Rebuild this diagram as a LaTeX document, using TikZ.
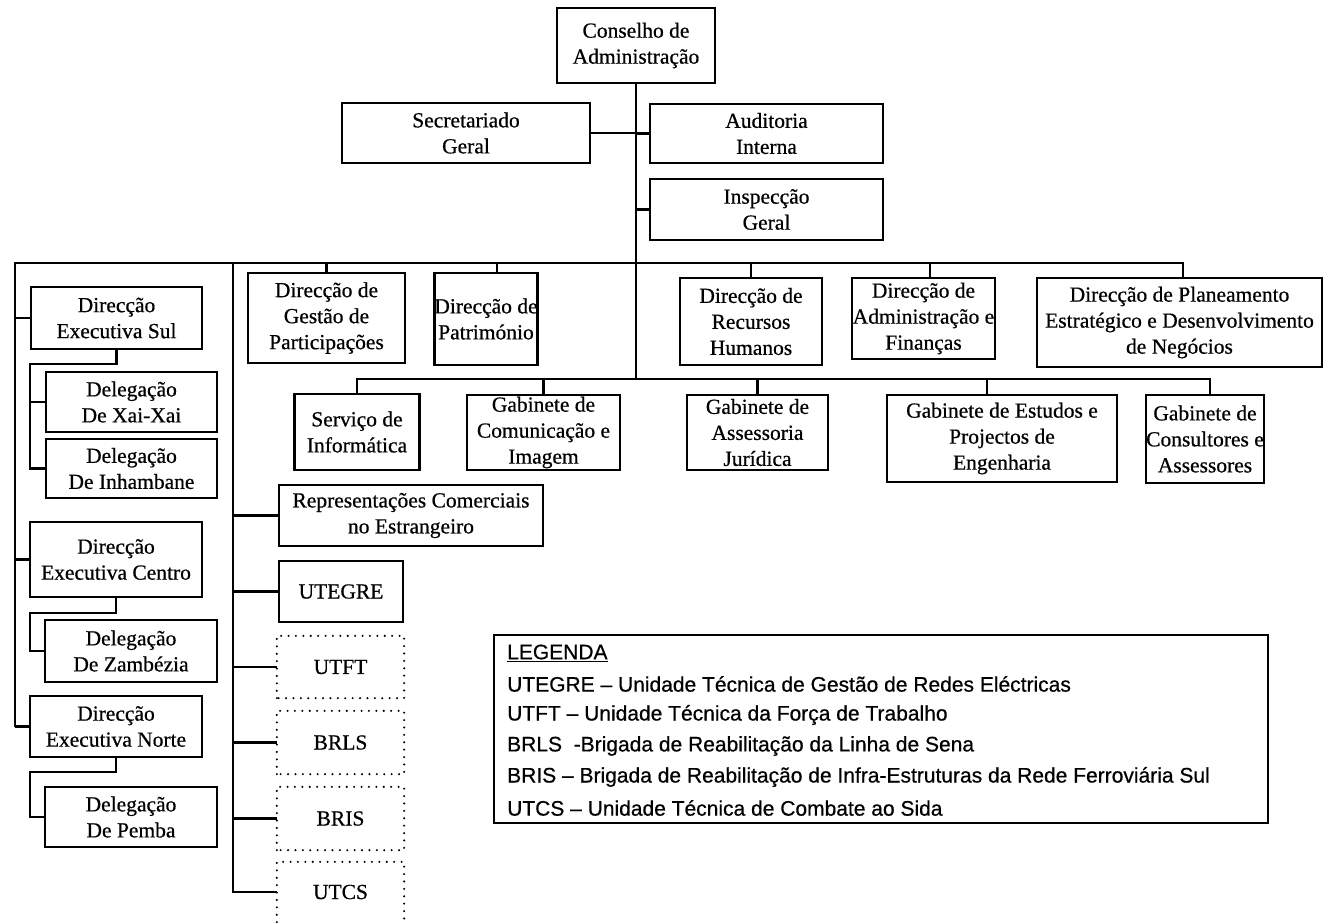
\documentclass[tikz,border=0pt]{standalone}
\usepackage{fontspec}
\setmainfont{Liberation Serif}[FakeBold=0.6]
\newfontfamily\legfont{Liberation Sans}[FakeBold=0.6]
\begin{document}
\begin{tikzpicture}[x=1pt,y=-1pt,
  box/.style={draw, line width=2.3pt, align=center, inner sep=0pt,
    font=\fontsize{21.5}{26}\selectfont},
  sz/.style 2 args={minimum width=#1pt, minimum height=#2pt},
  dotbox/.style={box, draw=none},
  dotline/.style={line width=2.3pt, line cap=round, dash pattern=on 0pt off 7.4pt},
  conn/.style={line width=2.6pt},
  legframe/.style={draw, line width=2.3pt, inner sep=0pt},
  legtext/.style={anchor=west, inner sep=0pt,
    font=\legfont\fontsize{21}{31}\selectfont}]
\useasboundingbox (0,0) rectangle (1324,922);

% ---- top level
\node[box, sz={158}{75}] (cons) at (636,45.5) {Conselho de\\Administração};
\node[box, sz={248}{60}] (sec)  at (466,133)  {Secretariado\\Geral};
\node[box, sz={233}{59}] (aud)  at (766.5,133.5) {Auditoria\\Interna};
\node[box, sz={233}{61}] (insp) at (766.5,209.5) {Inspecção\\Geral};

% ---- directions on the first bus
\node[box, sz={157}{90}] (gest) at (326.5,318) {Direcção de\\Gestão de\\Participações};
\node[box, sz={102}{92}] (patr) at (486,319) {Direcção de\\Património};
\node[box, sz={142}{87}] (rh)   at (751,321.5) {Direcção de\\Recursos\\Humanos};
\node[box, sz={143}{81}] (adm)  at (923.5,318.5) {Direcção de\\Administração e\\Finanças};
\node[box, sz={285}{89}] (plan) at (1179.5,322.5) {Direcção de Planeamento\\Estratégico e Desenvolvimento\\de Negócios};

% ---- offices on the second bus
\node[box, sz={125}{76}] (serv) at (357,432) {Serviço de\\Informática};
\node[box, sz={153}{75}] (com)  at (543.5,432.5) {Gabinete de\\Comunicação e\\Imagem};
\node[box, sz={141}{75}] (jur)  at (757.5,432.5) {Gabinete de\\Assessoria\\Jurídica};
\node[box, sz={230}{87}] (est)  at (1002,438.5) {Gabinete de Estudos e\\Projectos de\\Engenharia};
\node[box, sz={116}{88}] (csl)  at (1205,439) {Gabinete de\\Consultores e\\Assessores};

% ---- regional directorates
\node[box, sz={171}{62}] (des) at (116.5,318) {Direcção\\Executiva Sul};
\node[box, sz={171}{60}] (xai) at (131.5,402) {Delegação\\De Xai-Xai};
\node[box, sz={171}{59}] (inh) at (131.5,468.5) {Delegação\\De Inhambane};
\node[box, sz={172}{75}] (dec) at (116,559.5) {Direcção\\Executiva Centro};
\node[box, sz={172}{62}] (zam) at (131,651) {Delegação\\De Zambézia};
\node[box, sz={172}{61}] (den) at (116,726.5) {Direcção\\Executiva Norte};
\node[box, sz={172}{60}] (pem) at (131,817) {Delegação\\De Pemba};

% ---- units
\node[box, sz={264}{61}] (rep)  at (411,515.5) {Representações Comerciais\\no Estrangeiro};
\node[box, sz={124}{61}] (uteg) at (341,591.5) {UTEGRE};
\node[dotbox, sz={125}{60}] (utft) at (340.5,667) {UTFT};
\node[dotbox, sz={125}{61}] (brls) at (340.5,742.5) {BRLS};
\node[dotbox, sz={125}{61}] (bris) at (340.5,818.5) {BRIS};
\node[dotbox, sz={125}{58}] (utcs) at (340.5,892) {UTCS};
\foreach \n in {utft,brls,bris}
  \draw[dotline] (\n.south west) rectangle (\n.north east);
\draw[dotline] (utcs.south west) -- (utcs.north west) -- (utcs.north east) -- (utcs.south east);

% ---- bus coordinates
\coordinate (bl) at (15,263);
\coordinate (br) at (1183,263);
\coordinate (bm) at (233,263);
\coordinate (b2) at (636,379);
\coordinate (sl) at (30,0);

% ---- trunk and staff offices
\draw[conn] (cons.south) -- (b2);
\draw[conn] (sec.east) -- (sec.east -| cons.south);
\draw[conn] (aud.west) -- (aud.west -| cons.south);
\draw[conn] (insp.west) -- (insp.west -| cons.south);

% ---- first bus
\draw[conn] (den.west -| bl) |- (br) -- (plan.north -| br);
\draw[conn] (des.west -| bl) -- (des.west);
\draw[conn] (dec.west -| bl) -- (dec.west);
\draw[conn] (den.west -| bl) -- (den.west);
\draw[conn] (gest.north |- bl) -- (gest.north);
\draw[conn] ([xshift=11pt]patr.north |- bl) -- ([xshift=11pt]patr.north);
\draw[conn] (rh.north |- bl) -- (rh.north);
\draw[conn] ([xshift=6.5pt]adm.north |- bl) -- ([xshift=6.5pt]adm.north);

% ---- second bus
\draw[conn] (serv.north) |- ([xshift=5pt]csl.north |- b2) -- ([xshift=5pt]csl.north);
\draw[conn] (com.north |- b2) -- (com.north);
\draw[conn] (jur.north |- b2) -- (jur.north);
\draw[conn] ([xshift=-15pt]est.north |- b2) -- ([xshift=-15pt]est.north);

% ---- delegations
\draw[conn] (des.south) -- ([yshift=-14pt]des.south) -| (inh.west -| sl) -- (inh.west);
\draw[conn] (xai.west -| sl) -- (xai.west);
\draw[conn] (dec.south) -- ([yshift=-15pt]dec.south) -| (zam.west -| sl) -- (zam.west);
\draw[conn] (den.south) -- ([yshift=-14pt]den.south) -| (pem.west -| sl) -- (pem.west);

% ---- unit column
\draw[conn] (bm) |- (utcs.west);
\foreach \n in {rep,uteg,utft,brls,bris}
  \draw[conn] (\n.west -| bm) -- (\n.west);

% ---- legend
\node[legframe, minimum width=774pt, minimum height=188pt] (leg) at (881,729) {};
\node[legtext] (lg0) at (507,653) {\underline{LEGENDA}};
\node[legtext] (lg1) at (507,684) {UTEGRE – Unidade Técnica de Gestão de Redes Eléctricas};
\node[legtext] (lg2) at (507,715) {UTFT – Unidade Técnica da Força de Trabalho};
\node[legtext] (lg3) at (507,746) {BRLS\ \ -Brigada de Reabilitação da Linha de Sena};
\node[legtext] (lg4) at (507,777) {BRIS – Brigada de Reabilitação de Infra-Estruturas da Rede Ferroviária Sul};
\node[legtext] (lg5) at (507,808) {UTCS – Unidade Técnica de Combate ao Sida};
\end{tikzpicture}
\end{document}
